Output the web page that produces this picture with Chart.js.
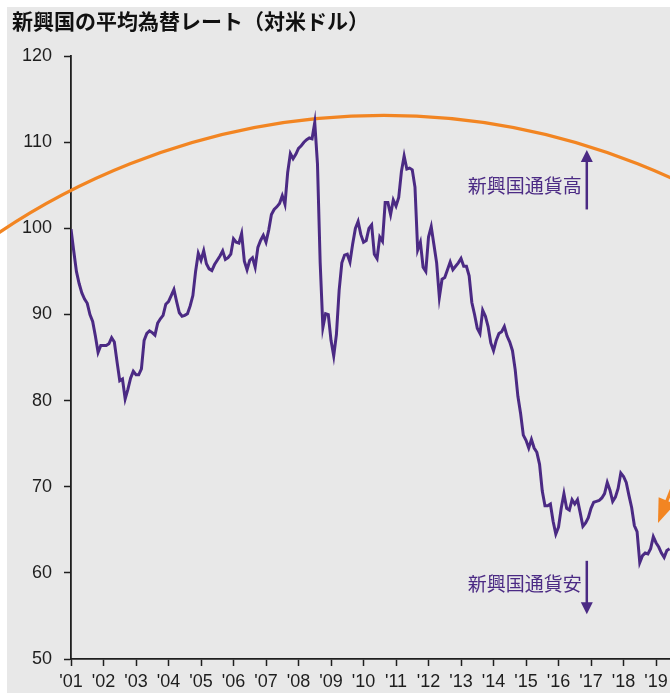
<!DOCTYPE html>
<html>
<head>
<meta charset="utf-8">
<script src="https://cdn.jsdelivr.net/npm/chart.js@4.4.1/dist/chart.umd.min.js"></script>
<style>
  body { margin: 0; background: #ffffff; }
  #wrap { width: 670px; height: 696px; }
</style>
</head>
<body>
<div id="wrap"><canvas id="fxChart" width="670" height="696"></canvas></div>
<script>
// Data: monthly average EM currency rate vs USD, from Jan 2001
const startYear = 2001;
const yearLabels = ["'01", "'02", "'03", "'04", "'05", "'06", "'07", "'08", "'09", "'10",
    "'11", "'12", "'13", "'14", "'15", "'16", "'17", "'18", "'19"];
const rateValues = [
    99.9, 97.4, 95.0, 93.6, 92.5, 91.8, 91.3, 90.0, 89.2, 87.5, 85.6, 86.4,   // 2001
    86.4, 86.4, 86.6, 87.3, 86.8, 84.5, 82.3, 82.5, 80.2, 81.3, 82.6, 83.4,   // 2002
    83.0, 83.0, 83.7, 87.0, 87.8, 88.1, 87.9, 87.6, 89.0, 89.5, 89.9, 91.2,   // 2003
    91.5, 92.2, 92.9, 91.5, 90.2, 89.8, 89.9, 90.1, 91.0, 92.2, 95.0, 97.1,   // 2004
    96.3, 97.4, 95.9, 95.3, 95.1, 95.8, 96.3, 96.8, 97.4, 96.4, 96.6, 97.0,   // 2005
    98.8, 98.4, 98.3, 99.4, 96.2, 95.2, 96.3, 96.6, 95.5, 97.8, 98.6, 99.2,   // 2006
    98.4, 99.8, 101.6, 102.2, 102.5, 102.9, 103.8, 102.8, 106.5, 108.7, 108.1, 108.6, // 2007
    109.3, 109.6, 110.0, 110.3, 110.5, 110.4, 112.3, 107.5, 96.0, 88.5, 90.1, 90.0,  // 2008
    87.0, 85.2, 87.7, 92.8, 96.0, 96.9, 97.0, 96.1, 98.2, 100.0, 100.8, 99.3, // 2009
    98.4, 98.6, 100.0, 100.4, 97.0, 96.5, 99.0, 98.5, 103.0, 103.0, 101.6, 103.3, // 2010
    102.6, 103.6, 106.6, 108.4, 106.9, 107.0, 106.8, 104.8, 97.5, 98.4, 95.5, 95.0, // 2011
    99.0, 100.2, 98.1, 96.0, 92.0, 94.1, 94.3, 95.2, 96.1, 95.2, 95.6, 96.0,  // 2012
    96.5, 95.6, 95.6, 94.5, 91.4, 90.0, 88.4, 87.8, 90.5, 89.8, 88.6, 86.7,   // 2013
    85.8, 87.0, 87.8, 88.0, 88.6, 87.5, 86.8, 85.8, 83.6, 80.5, 78.5, 76.0,   // 2014
    75.4, 74.5, 75.5, 74.5, 74.0, 72.6, 69.5, 67.8, 67.8, 68.0, 66.0, 64.5,   // 2015
    65.3, 67.5, 69.2, 67.5, 67.3, 68.5, 68.0, 68.5, 67.0, 65.4, 65.8, 66.4,   // 2016
    67.5, 68.2, 68.3, 68.4, 68.7, 69.2, 70.5, 69.6, 68.3, 68.8, 69.8, 71.6,   // 2017
    71.2, 70.5, 69.0, 67.6, 65.5, 64.8, 61.2, 62.0, 62.3, 62.2, 62.8, 64.2,   // 2018
    63.5, 63.0, 62.3, 61.8, 62.6, 62.8                                        // 2019
];
const rateDates = rateValues.map((v, i) => startYear + i / 12);

// Annotation texts
const titleText = '新興国の平均為替レート（対米ドル）';
const upLabel = '新興国通貨高';
const downLabel = '新興国通貨安';

// Annotation anchors (in chart units: year, rate)
const arcAnchors = [[2001.0, 104.4], [2011.1, 113.1], [2019.43, 105.9]];
const upArrow = { x: 2016.87, from: 102.2, to: 109.1, textY: 105.0 };
const downArrow = { x: 2016.87, from: 61.4, to: 55.2, textY: 58.7 };
const orangeArrow = { fromX: 2019.52, fromY: 70.1, toX: 2019.06, toY: 65.8 };

const purple = '#4b2a84';
const orange = '#f28522';

function circleFrom(a, b, c) {
    const d = 2 * (a[0] * (b[1] - c[1]) + b[0] * (c[1] - a[1]) + c[0] * (a[1] - b[1]));
    const a2 = a[0] * a[0] + a[1] * a[1];
    const b2 = b[0] * b[0] + b[1] * b[1];
    const c2 = c[0] * c[0] + c[1] * c[1];
    const ux = (a2 * (b[1] - c[1]) + b2 * (c[1] - a[1]) + c2 * (a[1] - b[1])) / d;
    const uy = (a2 * (c[0] - b[0]) + b2 * (a[0] - c[0]) + c2 * (b[0] - a[0])) / d;
    return { x: ux, y: uy, r: Math.hypot(a[0] - ux, a[1] - uy) };
}

function drawArrow(ctx, x1, y1, x2, y2, headLen, headHalf, color, width) {
    const len = Math.hypot(x2 - x1, y2 - y1);
    const ux = (x2 - x1) / len, uy = (y2 - y1) / len;
    const bx = x2 - ux * headLen, by = y2 - uy * headLen;
    ctx.save();
    ctx.strokeStyle = color;
    ctx.fillStyle = color;
    ctx.lineWidth = width;
    ctx.beginPath();
    ctx.moveTo(x1, y1);
    ctx.lineTo(bx + ux, by + uy);
    ctx.stroke();
    ctx.beginPath();
    ctx.moveTo(x2, y2);
    ctx.lineTo(bx - uy * headHalf, by + ux * headHalf);
    ctx.lineTo(bx + uy * headHalf, by - ux * headHalf);
    ctx.closePath();
    ctx.fill();
    ctx.restore();
}

const decorPlugin = {
    id: 'decor',
    beforeDraw(chart) {
        const ctx = chart.ctx;
        ctx.save();
        ctx.fillStyle = '#e8e8e8';
        ctx.fillRect(7, 7, chart.width - 7, chart.height - 10);
        ctx.restore();
    },
    beforeDatasetsDraw(chart) {
        const ctx = chart.ctx;
        const xs = chart.scales.x, ys = chart.scales.y;
        const pts = arcAnchors.map(p => [xs.getPixelForValue(p[0]), ys.getPixelForValue(p[1])]);
        const c = circleFrom(pts[0], pts[1], pts[2]);
        ctx.save();
        ctx.strokeStyle = orange;
        ctx.lineWidth = 3.2;
        ctx.beginPath();
        ctx.arc(c.x, c.y, c.r, 0, Math.PI * 2);
        ctx.stroke();
        ctx.restore();
    },
    afterDatasetsDraw(chart) {
        const ctx = chart.ctx;
        const xs = chart.scales.x, ys = chart.scales.y;

        // purple arrows with labels
        [[upArrow, upLabel], [downArrow, downLabel]].forEach(([a, label]) => {
            const px = xs.getPixelForValue(a.x);
            drawArrow(ctx, px, ys.getPixelForValue(a.from), px, ys.getPixelForValue(a.to), 12, 6, purple, 2.5);
            ctx.save();
            ctx.fillStyle = purple;
            ctx.font = "19px 'Noto Sans CJK JP'";
            ctx.textAlign = 'right';
            ctx.textBaseline = 'middle';
            ctx.fillText(label, px - 5, ys.getPixelForValue(a.textY));
            ctx.restore();
        });

        // orange arrow toward the latest values
        drawArrow(ctx,
            xs.getPixelForValue(orangeArrow.fromX), ys.getPixelForValue(orangeArrow.fromY),
            xs.getPixelForValue(orangeArrow.toX), ys.getPixelForValue(orangeArrow.toY),
            24, 9, orange, 3.2);
    }
};

const axisColor = '#1e1e1e';
const tickFont = { family: "'Liberation Sans', Arial, sans-serif", size: 18 };

const chart = new Chart(document.getElementById('fxChart').getContext('2d'), {
    type: 'line',
    data: {
        datasets: [{
            data: rateValues.map((v, i) => ({ x: rateDates[i], y: v })),
            borderColor: purple,
            borderWidth: 3,
            pointRadius: 0,
            tension: 0,
            fill: false
        }]
    },
    options: {
        responsive: false,
        animation: false,
        devicePixelRatio: 1,
        layout: { padding: { left: 12, top: 9, right: 0, bottom: 0 } },
        plugins: {
            legend: { display: false },
            tooltip: { enabled: false },
            title: {
                display: true,
                text: titleText,
                align: 'start',
                color: '#111111',
                font: { family: "'Noto Sans CJK JP', sans-serif", size: 21, weight: 'bold', lineHeight: 1.15 },
                padding: { top: 0, bottom: 23 }
            }
        },
        scales: {
            x: {
                type: 'linear',
                min: startYear,
                max: 2019.43,
                afterBuildTicks: (scale) => {
                    scale.ticks = yearLabels.map((l, i) => ({ value: startYear + i }));
                },
                afterFit: (scale) => {
                    scale.height = 37;
                    scale.paddingLeft = 0;
                    scale.paddingRight = 0;
                },
                ticks: {
                    autoSkip: false,
                    maxRotation: 0,
                    padding: 5,
                    color: axisColor,
                    font: tickFont,
                    callback: (value) => yearLabels[Math.round(value) - startYear] || ''
                },
                grid: { drawOnChartArea: false, drawTicks: true, tickLength: 7, color: axisColor, tickWidth: 1.5 },
                border: { color: axisColor, width: 1.8 }
            },
            y: {
                min: 50,
                max: 120,
                afterFit: (scale) => { scale.width = 59; },
                ticks: {
                    stepSize: 10,
                    padding: 12,
                    color: axisColor,
                    font: tickFont
                },
                grid: { drawOnChartArea: false, drawTicks: true, tickLength: 7, color: axisColor, tickWidth: 1.5 },
                border: { color: axisColor, width: 1.8 }
            }
        }
    },
    plugins: [decorPlugin]
});
</script>
</body>
</html>
